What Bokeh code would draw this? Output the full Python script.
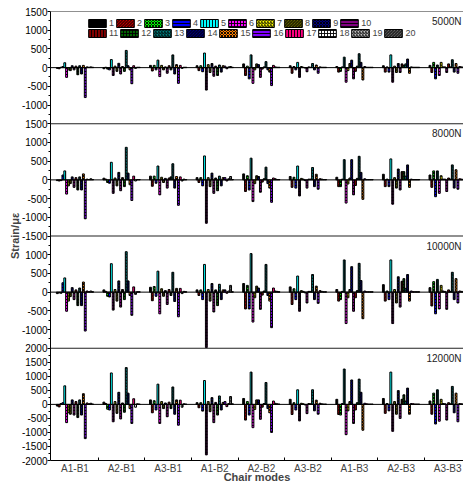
import numpy as np
from math import pi
from bokeh.plotting import figure
from bokeh.models import Range1d, FixedTicker, Span, Label, Legend, LegendItem
from bokeh.embed import file_html
from bokeh.resources import INLINE

# ---------------- data ----------------
modes = ["A1-B1", "A2-B1", "A3-B1", "A1-B2", "A2-B2", "A3-B2", "A1-B3", "A2-B3", "A3-B3"]
loads = ["5000N", "8000N", "10000N", "12000N"]
series_names = [str(i) for i in range(1, 21)]

# y-axis range of each load panel (strain)
panel_lo = [-1500, -1500, -1500, -2000]
panel_hi = [1500, 1500, 1500, 2000]
panel_tick_labels = [
    [1500, 1000, 500, 0, -500, -1000],
    [1500, 1000, 500, 0, -500, -1000, -1500],
    [1000, 500, 0, -500, -1000],
    [2000, 1500, 1000, 500, 0, -500, -1000, -1500, -2000],
]

# strain values of the 20 measuring points, one list per chair mode and load
s5000_A1B1 = [-20, -30, 10, 30, 130, -260, -60, -80, 50, -60, 40, -190, 50, -170, 60, -800, 20, 10, 20, 10]
s5000_A2B1 = [-30, 10, -40, -60, 215, -210, 40, -100, 115, -170, 30, -100, 460, 50, -60, -430, 50, -20, 10, 10]
s5000_A3B1 = [60, -90, 60, -60, 200, -240, 60, -60, 20, -150, 50, -60, 340, -170, 80, -420, 60, -20, 10, 10]
s5000_A1B2 = [50, -80, 50, -110, 390, -600, 80, -130, 110, -230, 40, -210, 70, -120, 50, 40, -30, 20, 30, 10]
s5000_A2B2 = [100, -210, 40, -300, 340, -420, -60, 100, 80, -260, -40, 20, 160, -60, -120, -480, 60, 20, 10, 10]
s5000_A3B2 = [50, -150, 30, -60, 140, -260, 30, 10, -10, -110, 20, 10, 110, -60, 70, -150, 20, 10, 10, 10]
s5000_A1B3 = [30, -120, -100, 20, 280, -390, -80, 110, 200, -300, -100, 40, 370, 140, -330, 30, 10, 10, 10, 10]
s5000_A2B3 = [50, -120, 20, -120, 340, -390, 40, -130, 110, -130, 100, 60, 100, 230, -150, 20, 10, 10, 10, 10]
s5000_A3B3 = [60, -130, 140, -300, 70, -210, 140, 20, 20, -130, 100, 20, 210, -120, 110, -150, 30, 20, 10, 10]

s8000_A1B1 = [-20, -30, -20, 130, 240, -380, -160, -100, 80, -200, 60, -270, 80, -270, 160, -1040, 20, 10, 30, 10]
s8000_A2B1 = [45, 20, -70, -90, 470, -360, 50, -160, 200, -290, 60, -180, 870, 180, -130, -550, 100, -30, 10, 10]
s8000_A3B1 = [100, -170, 100, -90, 370, -400, 70, -70, 40, -220, 50, 80, 430, -220, 90, -680, 80, -30, 20, 10]
s8000_A1B2 = [60, -70, 60, -160, 640, -1160, 60, -180, 180, -360, 50, -290, 100, -160, 60, 60, -30, 30, 90, 10]
s8000_A2B2 = [160, -310, 110, -270, 580, -580, -100, 110, 90, -330, -60, 30, 340, -100, -220, -600, 50, 30, 10, 10]
s8000_A3B2 = [90, -200, 70, -220, 370, -430, 40, 20, -20, -220, 20, 20, 330, -180, 150, -250, 30, 20, 10, 10]
s8000_A1B3 = [70, -180, -180, 20, 540, -620, -110, 50, 540, -400, -150, 40, 630, 200, -520, 30, 10, 10, 10, 10]
s8000_A2B3 = [150, -180, 20, -180, 560, -650, 60, -220, 290, -270, 220, 220, 100, 400, -200, 20, 10, 10, 10, 10]
s8000_A3B3 = [130, -200, 240, -450, 240, -360, 110, 20, 20, -310, 50, 20, 400, -220, 270, -250, 30, 20, 10, 10]

s10000_A1B1 = [-40, -20, -30, 250, 380, -510, -240, -120, 120, -200, 60, -360, 110, -360, 270, -1040, 30, 10, 30, 10]
s10000_A2B1 = [60, 20, -110, -130, 760, -480, 70, -240, 300, -400, 70, -200, 1080, 300, -90, -620, 140, -60, 10, 10]
s10000_A3B1 = [130, -230, 150, -110, 560, -580, 90, -110, 40, -330, 70, -90, 530, -250, 100, -660, 100, -40, 20, 10]
s10000_A1B2 = [60, -90, 60, -200, 740, -1480, 70, -240, 230, -530, 60, -360, 210, -200, 60, 60, -30, 30, 180, 10]
s10000_A2B2 = [230, -450, 180, -450, 1030, -800, -150, 160, 110, -460, -80, 30, 740, -90, -240, -950, 110, 30, 20, 10]
s10000_A3B2 = [140, -330, 90, -200, 430, -510, 40, 20, -20, -290, 20, 20, 470, -200, 160, -300, 40, 20, 10, 10]
s10000_A1B3 = [70, -240, -200, 20, 860, -840, -150, 70, 680, -510, -150, 40, 770, 310, -710, 30, 10, 10, 10, 10]
s10000_A2B3 = [200, -240, 30, -200, 860, -840, 70, -290, 410, -400, 290, 360, 100, 470, -240, 30, 10, 10, 10, 10]
s10000_A3B3 = [120, -370, 280, -580, 340, -450, 180, 30, 20, -460, 60, 20, 530, -200, 360, -290, 30, 20, 10, 10]

s12000_A1B1 = [-60, -90, 30, 60, 660, -650, -300, -350, 160, -380, 100, -470, 160, -380, 380, -1220, 50, 20, 40, 10]
s12000_A2B1 = [80, 30, -170, -200, 1120, -620, 100, -320, 430, -520, 50, -280, 1310, 400, -150, -680, 200, -100, 20, 10]
s12000_A3B1 = [160, -300, 130, -200, 720, -680, 100, -150, 50, -440, 80, -150, 620, -350, 160, -740, 150, -100, 20, 10]
s12000_A1B2 = [60, -120, 60, -240, 850, -1800, 100, -260, 240, -650, 70, -380, 300, -200, 70, 100, -80, 30, 280, 20]
s12000_A2B2 = [210, -560, 100, -380, 1150, -830, -180, 160, 160, -530, -100, 30, 780, -150, -300, -1000, 120, 40, 20, 10]
s12000_A3B2 = [180, -360, 60, -200, 520, -590, 40, 20, -20, -330, 30, 20, 520, -230, 150, -350, 40, 20, 10, 10]
s12000_A1B3 = [180, -360, -380, 30, 1260, -1080, -230, 100, 870, -680, -200, 60, 900, 430, -920, 40, 20, 10, 10, 10]
s12000_A2B3 = [210, -320, 30, -230, 1150, -960, 100, -350, 490, -500, 180, 340, 120, 580, -350, 30, 20, 10, 10, 10]
s12000_A3B3 = [120, -350, 400, -700, 520, -600, 180, 30, 20, -560, 60, 20, 640, -300, 400, -620, 30, 20, 10, 10]

data = {
    "5000N": [s5000_A1B1, s5000_A2B1, s5000_A3B1, s5000_A1B2, s5000_A2B2, s5000_A3B2, s5000_A1B3, s5000_A2B3, s5000_A3B3],
    "8000N": [s8000_A1B1, s8000_A2B1, s8000_A3B1, s8000_A1B2, s8000_A2B2, s8000_A3B2, s8000_A1B3, s8000_A2B3, s8000_A3B3],
    "10000N": [s10000_A1B1, s10000_A2B1, s10000_A3B1, s10000_A1B2, s10000_A2B2, s10000_A3B2, s10000_A1B3, s10000_A2B3, s10000_A3B3],
    "12000N": [s12000_A1B1, s12000_A2B1, s12000_A3B1, s12000_A1B2, s12000_A2B2, s12000_A3B2, s12000_A1B3, s12000_A2B3, s12000_A3B3],
}

# ---------------- style ----------------
colors = ["#000000", "#FF0000", "#00FF00", "#0000FF", "#00FFFF", "#FF00FF", "#FFFF00", "#808000",
          "#000080", "#800080", "#800000", "#006400", "#008080", "#0000A0", "#FF8000", "#8000FF",
          "#FF0080", "#FFFFFF", "#C0C0C0", "#808080"]
hatches = [None, "\\", "x", "-", "|", "+", "/", "\\", "x", "-",
           "|", "+", "/", "\\", "x", "-", "|", "+", "/", "\\"]
FONT = "Liberation Sans"

PANEL_UNITS = 120          # height of each panel in the base y unit
N_PANELS = len(loads)
TOTAL_UNITS = PANEL_UNITS * N_PANELS
BAR_W = 0.04
X_START, X_END = 0.474, 9.34

p = figure(width=463, height=485, output_backend="svg", toolbar_location=None,
           x_range=Range1d(X_START, X_END), y_range=Range1d(0, TOTAL_UNITS),
           min_border_left=50, min_border_right=0, min_border_top=11, min_border_bottom=25)
p.outline_line_color = None
p.grid.visible = False
p.background_fill_color = "white"

# panel ranges: each panel occupies one slice of the frame
extra = {}
for k in range(N_PANELS):
    base = (N_PANELS - 1 - k) * PANEL_UNITS
    s = (panel_hi[k] - panel_lo[k]) / PANEL_UNITS
    extra[f"p{k}"] = Range1d(panel_lo[k] - base * s,
                             panel_hi[k] + (TOTAL_UNITS - base - PANEL_UNITS) * s)
p.extra_y_ranges = extra

renderers = []
for k, load in enumerate(loads):
    rname = f"p{k}"
    groups = data[load]
    row = []
    for si in range(20):
        vals = [g[si] for g in groups]
        xs = [gi + 1 + (si - 9.5) * BAR_W for gi in range(len(modes))]
        r = p.vbar(x=xs, top=vals, bottom=0, width=BAR_W, y_range_name=rname,
                   fill_color=colors[si], line_color="black", line_width=1.0,
                   hatch_pattern=hatches[si], hatch_color="black", hatch_scale=3,
                   hatch_weight=0.9)
        row.append(r)
    renderers.append(row)
    p.add_layout(Span(location=0, dimension="width", y_range_name=rname,
                      line_color="black", line_width=1))
    p.add_layout(Span(location=panel_hi[k], dimension="width", y_range_name=rname,
                      line_color="#222222", line_width=1.2))
    p.add_layout(Label(x=X_END, x_offset=-2, y=panel_hi[k], y_range_name=rname, y_offset=-10,
                       text=load, text_align="right", text_baseline="middle",
                       text_font=FONT, text_font_size="10px", text_color="#222222"))

# y axis: ticks of every panel mapped onto the base unit
ticks, minors, overrides = [], [], {}
for k in range(N_PANELS):
    base = (N_PANELS - 1 - k) * PANEL_UNITS + PANEL_UNITS / 2
    span = panel_hi[k] - panel_lo[k]
    for v in panel_tick_labels[k]:
        u = int(round(base + v * PANEL_UNITS / span))
        ticks.append(u)
        overrides[u] = str(v)
    v = panel_lo[k] + 250
    while v < panel_hi[k]:
        if v % 500 != 0:
            minors.append(base + v * PANEL_UNITS / span)
        v += 250

yax = p.yaxis[0]
yax.ticker = FixedTicker(ticks=sorted(set(ticks)), minor_ticks=minors)
yax.major_label_overrides = overrides
yax.major_tick_out = 3
yax.major_tick_in = 0
yax.minor_tick_out = 2
yax.minor_tick_in = 0
yax.major_label_standoff = 0
yax.major_label_text_font = FONT
yax.major_label_text_font_size = "10px"
yax.major_label_text_color = "black"
yax.axis_line_color = "black"
yax.axis_label = "Strain/με"
yax.axis_label_standoff = -2
yax.axis_label_text_font = FONT
yax.axis_label_text_font_size = "11px"
yax.axis_label_text_font_style = "bold"

xax = p.xaxis[0]
xax.ticker = FixedTicker(ticks=list(range(1, len(modes) + 1)),
                         minor_ticks=[i + 1.5 for i in range(len(modes) - 1)])
xax.major_label_overrides = {i + 1: m for i, m in enumerate(modes)}
xax.major_tick_out = 0
xax.major_tick_in = 0
xax.minor_tick_in = 3
xax.minor_tick_out = 0
xax.major_label_standoff = 2
xax.major_label_text_font = FONT
xax.major_label_text_font_size = "10px"
xax.axis_label = "Chair modes"
xax.axis_label_standoff = -6
xax.axis_label_text_font = FONT
xax.axis_label_text_font_size = "11px"
xax.axis_label_text_font_style = "bold"
xax.axis_line_color = "black"

# legend in two rows
for row_i, (lo, hi, ypos, lw) in enumerate([(0, 10, 432, 5), (10, 20, 422, 9)]):
    items = [LegendItem(label=series_names[s], renderers=[renderers[0][s]]) for s in range(lo, hi)]
    leg = Legend(items=items, orientation="horizontal", location=(36, ypos),
                 label_text_font=FONT, label_text_font_size="9px",
                 glyph_width=22, glyph_height=10, label_standoff=1, label_width=lw,
                 label_height=8, spacing=0, padding=0, margin=0,
                 border_line_color=None, background_fill_alpha=0)
    p.add_layout(leg)

open("out.html", "w").write(file_html(p, INLINE))
